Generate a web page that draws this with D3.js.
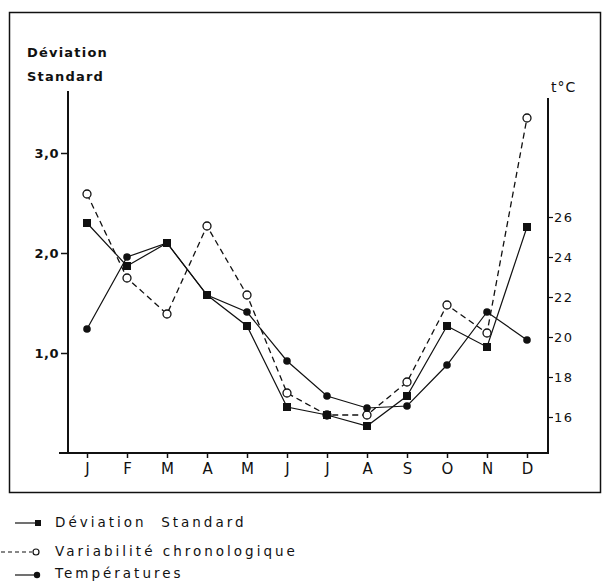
<!DOCTYPE html>
<html>
<head>
<meta charset="utf-8">
<script src="https://cdn.jsdelivr.net/npm/d3@7"></script>
<style>
  body { margin: 0; background: #fff; }
  svg text { font-family: "DejaVu Sans", sans-serif; fill: #111; }
  .domain { display: none; }
</style>
</head>
<body>
<svg id="chart" width="602" height="582"></svg>
<script>
// months on the x axis
var months = ["J", "F", "M", "A", "M", "J", "J", "A", "S", "O", "N", "D"];
// Déviation Standard (left axis)
var deviation = [2.30, 1.87, 2.10, 1.58, 1.27, 0.46, 0.38, 0.27, 0.57, 1.27, 1.06, 2.26];
// Variabilité chronologique (left axis)
var variabilite = [2.59, 1.75, 1.39, 2.27, 1.58, 0.60, 0.38, 0.38, 0.71, 1.48, 1.20, 3.35];
// Températures in °C (right axis)
var temperatures = [20.4, 24.0, 24.7, 22.1, 21.25, 18.8, 17.05, 16.45, 16.55, 18.6, 21.25, 19.85];
var devTicks = [1, 2, 3];
var tempTicks = [16, 18, 20, 22, 24, 26];

var svg = d3.select('#chart');
var ink = '#111';

// outer frame
svg.append('rect')
    .attr('x', 9.5).attr('y', 12.5)
    .attr('width', 591).attr('height', 480)
    .attr('fill', 'none').attr('stroke', ink).attr('stroke-width', 1.5);

var x = d3.scalePoint().domain(d3.range(months.length)).range([87, 527]);
var yDev = d3.scaleLinear().domain([0, 3]).range([453, 153]);
var yTemp = d3.scaleLinear().domain([16, 26]).range([417, 217]);

// axis lines
svg.append('line').attr('x1', 68).attr('x2', 68).attr('y1', 91).attr('y2', 453)
    .attr('stroke', ink).attr('stroke-width', 2);
svg.append('line').attr('x1', 548).attr('x2', 548).attr('y1', 98).attr('y2', 454)
    .attr('stroke', ink).attr('stroke-width', 2);
svg.append('line').attr('x1', 59).attr('x2', 549).attr('y1', 453).attr('y2', 453)
    .attr('stroke', ink).attr('stroke-width', 2);

// left axis
var gLeft = svg.append('g').attr('transform', 'translate(68,0)')
    .call(d3.axisLeft(yDev).tickValues(devTicks).tickSize(7).tickPadding(2)
        .tickFormat(function (d) { return d3.format('.1f')(d).replace('.', ','); }));
gLeft.selectAll('line').attr('stroke', ink).attr('stroke-width', 1.5);
gLeft.selectAll('text').attr('font-size', 13).attr('font-weight', 'bold')
    .attr('letter-spacing', 0.5).attr('dy', '0.35em');

// right axis
var gRight = svg.append('g').attr('transform', 'translate(548,0)')
    .call(d3.axisRight(yTemp).tickValues(tempTicks).tickSize(5).tickPadding(1));
gRight.selectAll('line').attr('stroke', ink).attr('stroke-width', 1.2);
gRight.selectAll('text').attr('font-size', 13).attr('letter-spacing', 1.5)
    .attr('dy', '0.35em');

// bottom axis
var gBottom = svg.append('g').attr('transform', 'translate(0,453)')
    .call(d3.axisBottom(x).tickSize(5).tickPadding(4)
        .tickFormat(function (i) { return months[i]; }));
gBottom.selectAll('line').attr('stroke', ink).attr('stroke-width', 1.5);
gBottom.selectAll('text').attr('font-size', 15).attr('dy', '0.8em');

// axis titles
svg.append('text').attr('x', 27).attr('y', 57).text('Déviation')
    .attr('font-size', 13).attr('font-weight', 'bold').attr('letter-spacing', 1.2);
svg.append('text').attr('x', 27).attr('y', 81).text('Standard')
    .attr('font-size', 13).attr('font-weight', 'bold').attr('letter-spacing', 1.2);
svg.append('text').attr('x', 551).attr('y', 92).text('t°C')
    .attr('font-size', 14).attr('letter-spacing', 1);

// lines
var lineDev = d3.line().x(function (d, i) { return x(i); }).y(function (d) { return yDev(d); });
var lineTemp = d3.line().x(function (d, i) { return x(i); }).y(function (d) { return yTemp(d); });

svg.append('path').datum(temperatures).attr('d', lineTemp)
    .attr('fill', 'none').attr('stroke', ink).attr('stroke-width', 1.2);
svg.append('path').datum(variabilite).attr('d', lineDev)
    .attr('fill', 'none').attr('stroke', ink).attr('stroke-width', 1.3)
    .attr('stroke-dasharray', '6,4');
svg.append('path').datum(deviation).attr('d', lineDev)
    .attr('fill', 'none').attr('stroke', ink).attr('stroke-width', 1.2);

// markers
svg.selectAll('.circ').data(variabilite).enter().append('circle')
    .attr('cx', function (d, i) { return x(i); })
    .attr('cy', function (d) { return yDev(d); })
    .attr('r', 4).attr('fill', '#fff').attr('stroke', ink).attr('stroke-width', 1.3);
svg.selectAll('.sq').data(deviation).enter().append('rect')
    .attr('x', function (d, i) { return x(i) - 4; })
    .attr('y', function (d) { return yDev(d) - 4; })
    .attr('width', 8).attr('height', 8).attr('fill', ink);
svg.selectAll('.dot').data(temperatures).enter().append('circle')
    .attr('cx', function (d, i) { return x(i); })
    .attr('cy', function (d) { return yTemp(d); })
    .attr('r', 3.8).attr('fill', ink);

// legend
var legend = svg.append('g');
legend.append('line').attr('x1', 15).attr('x2', 36).attr('y1', 523).attr('y2', 523)
    .attr('stroke', ink).attr('stroke-width', 1.2);
legend.append('rect').attr('x', 35).attr('y', 520).attr('width', 6).attr('height', 6).attr('fill', ink);
legend.append('line').attr('x1', 1).attr('x2', 32).attr('y1', 552).attr('y2', 552)
    .attr('stroke', ink).attr('stroke-width', 1.2).attr('stroke-dasharray', '4,3');
legend.append('circle').attr('cx', 36).attr('cy', 552).attr('r', 3)
    .attr('fill', '#fff').attr('stroke', ink).attr('stroke-width', 1.2);
legend.append('line').attr('x1', 15).attr('x2', 36).attr('y1', 575).attr('y2', 575)
    .attr('stroke', ink).attr('stroke-width', 1.2);
legend.append('circle').attr('cx', 37).attr('cy', 575).attr('r', 3.2).attr('fill', ink);

var legendLabels = ['Déviation  Standard', 'Variabilité chronologique', 'Températures'];
var legendY = [527, 556, 578];
legend.selectAll('.lt').data(legendLabels).enter().append('text')
    .attr('x', 55).attr('y', function (d, i) { return legendY[i]; })
    .attr('font-size', 13.5).attr('letter-spacing', 3)
    .style('white-space', 'pre')
    .text(function (d) { return d; });
</script>
</body>
</html>
